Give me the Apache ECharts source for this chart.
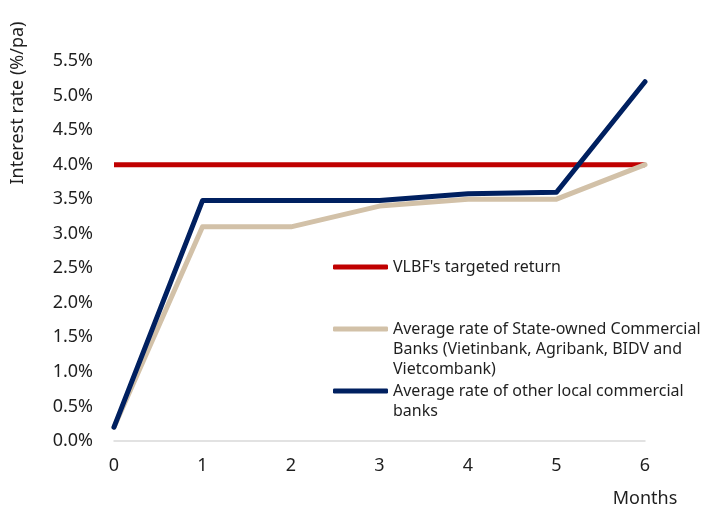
<!DOCTYPE html>
<html>
<head>
<meta charset="utf-8">
<script src="https://cdn.jsdelivr.net/npm/echarts@6/dist/echarts.min.js"></script>
<style>html,body{margin:0;padding:0;background:#fff;}#c{width:707px;height:511px;}</style>
</head>
<body>
<div id="c"></div>
<script>
var months = ['0', '1', '2', '3', '4', '5', '6'];
var vlbf = [4.0, 4.0, 4.0, 4.0, 4.0, 4.0, 4.0];
var stateOwned = [0.2, 3.1, 3.1, 3.4, 3.5, 3.5, 4.0];
var otherLocal = [0.2, 3.48, 3.48, 3.48, 3.58, 3.6, 5.2];
var seriesNames = [
  "VLBF's targeted return",
  "Average rate of State-owned Commercial Banks (Vietinbank, Agribank, BIDV and Vietcombank)",
  "Average rate of other local commercial banks"
];
var legendLines = [
  ["VLBF's targeted return"],
  ["Average rate of State-owned Commercial", "Banks (Vietinbank, Agribank, BIDV and", "Vietcombank)"],
  ["Average rate of other local commercial", "banks"]
];
var yTitle = 'Interest rate (%/pa)';
var xTitle = 'Months';

var FONT = 'Noto Sans';
var TXT = '#1f1f1f';
var colors = ['#C00000', '#D2C1A8', '#002060'];
var LH = 20;

function mkLegend(i, top) {
  var lines = legendLines[i];
  var n = lines.length;
  var pad = [];
  for (var k = 0; k < n - 1; k++) pad.push(' ');
  var text = pad.concat(lines).join('\n');
  return {
    show: true,
    left: 333,
    top: top,
    padding: 0,
    orient: 'vertical',
    data: [{ name: seriesNames[i], icon: 'roundRect' }],
    itemWidth: 55,
    itemHeight: 5,
    itemGap: 0,
    selectedMode: false,
    formatter: function () { return text; },
    textStyle: { fontFamily: FONT, fontSize: 16, color: TXT, lineHeight: LH }
  };
}

var chart = echarts.init(document.getElementById('c'));
chart.setOption({
  animation: false,
  backgroundColor: '#fff',
  grid: { left: 114, right: 62, top: 61, bottom: 70, containLabel: false },
  legend: [mkLegend(0, 257), mkLegend(1, 279), mkLegend(2, 361)],
  xAxis: {
    type: 'category',
    data: months,
    boundaryGap: false,
    axisLine: { show: true, lineStyle: { color: '#d9d9d9', width: 1.5 } },
    axisTick: { show: false },
    axisLabel: { margin: 16, fontFamily: FONT, fontSize: 18, color: TXT },
    splitLine: { show: false }
  },
  yAxis: {
    type: 'value',
    min: 0, max: 5.5, interval: 0.5,
    axisLine: { show: false },
    axisTick: { show: false },
    splitLine: { show: false },
    axisLabel: {
      margin: 21, fontFamily: FONT, fontSize: 18, color: TXT,
      formatter: function (v) { return v.toFixed(1) + '%'; }
    }
  },
  graphic: [
    {
      type: 'text', x: 18, y: 103, rotation: Math.PI / 2,
      style: { text: yTitle, fontFamily: FONT, fontSize: 18, fill: TXT, align: 'center', verticalAlign: 'middle' }
    },
    {
      type: 'text', x: 645, y: 499,
      style: { text: xTitle, fontFamily: FONT, fontSize: 18, fill: TXT, align: 'center', verticalAlign: 'middle' }
    }
  ],
  series: [
    {
      name: seriesNames[0], type: 'line', data: vlbf, symbol: 'none', z: 2,
      lineStyle: { color: colors[0], width: 5 }, itemStyle: { color: colors[0] },
      label: {
        show: true, position: 'right', distance: 8, offset: [0, -19],
        fontFamily: FONT, fontSize: 18, color: TXT,
        formatter: function (p) { return p.dataIndex === vlbf.length - 1 ? p.value.toFixed(2) + '%' : ''; }
      }
    },
    {
      name: seriesNames[1], type: 'line', data: stateOwned, symbol: 'none', z: 3,
      lineStyle: { color: colors[1], width: 5, cap: 'round', join: 'round' }, itemStyle: { color: colors[1] }
    },
    {
      name: seriesNames[2], type: 'line', data: otherLocal, symbol: 'none', z: 4,
      lineStyle: { color: colors[2], width: 5, cap: 'round', join: 'round' }, itemStyle: { color: colors[2] }
    }
  ]
});
</script>
</body>
</html>
